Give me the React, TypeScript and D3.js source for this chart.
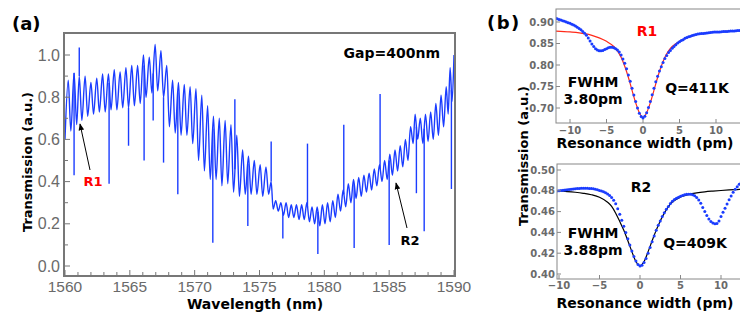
import React from "react";
import * as d3 from "d3";

// ---------- Panel (a): transmission spectrum (fringe extrema) ----------
const specWl = [
  1560.00, 1560.25, 1560.45, 1560.70, 1560.90, 1561.10, 1561.30, 1561.55, 1561.75, 1562.00,
  1562.20, 1562.45, 1562.65, 1562.90, 1563.10, 1563.35, 1563.55, 1563.80, 1564.00, 1564.25,
  1564.45, 1564.70, 1564.90, 1565.15, 1565.35, 1565.60, 1565.80, 1566.05, 1566.25, 1566.50,
  1566.70, 1566.95, 1567.15, 1567.40, 1567.60, 1567.85, 1568.05, 1568.30, 1568.50, 1568.75,
  1568.95, 1569.20, 1569.40, 1569.65, 1569.85, 1570.10, 1570.30, 1570.55, 1570.75, 1571.00,
  1571.20, 1571.45, 1571.65, 1571.90, 1572.10, 1572.35, 1572.55, 1572.80, 1573.00, 1573.25,
  1573.45, 1573.70, 1573.90, 1574.15, 1574.35, 1574.60, 1574.80, 1575.05, 1575.25, 1575.50,
  1575.70, 1575.90, 1576.05, 1576.25, 1576.45, 1576.65, 1576.85, 1577.05, 1577.25, 1577.45,
  1577.65, 1577.85, 1578.05, 1578.25, 1578.45, 1578.65, 1578.85, 1579.05, 1579.25, 1579.45,
  1579.65, 1579.85, 1580.05, 1580.25, 1580.45, 1580.65, 1580.85, 1581.05, 1581.25, 1581.45,
  1581.65, 1581.85, 1582.05, 1582.25, 1582.45, 1582.65, 1582.85, 1583.05, 1583.25, 1583.45,
  1583.65, 1583.85, 1584.05, 1584.25, 1584.45, 1584.65, 1584.85, 1585.05, 1585.25, 1585.45,
  1585.65, 1585.85, 1586.05, 1586.25, 1586.45, 1586.65, 1586.85, 1587.00, 1587.20, 1587.40,
  1587.60, 1587.80, 1588.00, 1588.20, 1588.40, 1588.60, 1588.80, 1589.00, 1589.20, 1589.40,
  1589.55, 1589.70, 1589.85, 1590.00,
];
const specT = [
  0.60, 0.88, 0.64, 0.915, 0.67, 0.90, 0.69, 0.90, 0.71, 0.87,
  0.72, 0.89, 0.73, 0.91, 0.73, 0.91, 0.74, 0.93, 0.74, 0.92,
  0.75, 0.94, 0.75, 0.95, 0.76, 0.95, 0.77, 1.00, 0.80, 0.99,
  0.82, 1.05, 0.83, 1.02, 0.80, 0.95, 0.66, 0.88, 0.63, 0.87,
  0.62, 0.86, 0.62, 0.85, 0.58, 0.84, 0.50, 0.81, 0.45, 0.76,
  0.41, 0.71, 0.41, 0.70, 0.38, 0.69, 0.39, 0.67, 0.35, 0.62,
  0.33, 0.55, 0.34, 0.52, 0.34, 0.50, 0.34, 0.48, 0.33, 0.47,
  0.34, 0.40, 0.27, 0.31, 0.26, 0.30, 0.24, 0.30, 0.23, 0.29,
  0.23, 0.29, 0.22, 0.29, 0.22, 0.30, 0.21, 0.28, 0.20, 0.28,
  0.19, 0.29, 0.20, 0.30, 0.21, 0.31, 0.23, 0.34, 0.26, 0.36,
  0.28, 0.39, 0.30, 0.41, 0.32, 0.42, 0.33, 0.43, 0.35, 0.44,
  0.36, 0.46, 0.38, 0.48, 0.40, 0.50, 0.41, 0.53, 0.43, 0.55,
  0.45, 0.57, 0.47, 0.60, 0.50, 0.66, 0.58, 0.72, 0.60, 0.70,
  0.58, 0.72, 0.59, 0.73, 0.60, 0.77, 0.62, 0.81, 0.66, 0.85,
  0.72, 0.94, 0.78, 1.00,
];
const spikeWl = [1560.7, 1561.1, 1563.4, 1564.9, 1566.1, 1566.8, 1567.6, 1568.7, 1571.4, 1573.1,
  1574.1, 1575.9, 1576.8, 1578.7, 1579.5, 1581.5, 1582.3, 1584.3, 1585.0, 1587.1, 1587.7, 1589.8];
const spikeT = [0.43, 1.035, 0.39, 0.57, 0.50, 0.69, 0.49, 0.34, 0.11, 0.79,
  0.19, 0.59, 0.13, 0.58, 0.057, 0.67, 0.085, 0.815, 0.10, 0.345, 0.165, 0.365];
const xTicksA = [1560, 1565, 1570, 1575, 1580, 1585, 1590];
const yTicksA = [0.0, 0.2, 0.4, 0.6, 0.8, 1.0];

// ---------- Panel (b) top: R1 (measured points every 0.25 pm from -12) ----------
const r1Data = [
  0.909, 0.9075, 0.906, 0.9045, 0.903, 0.9015, 0.900, 0.8985, 0.897, 0.895,
  0.893, 0.8905, 0.888, 0.885, 0.882, 0.878, 0.874, 0.869, 0.863, 0.856,
  0.849, 0.843, 0.838, 0.835, 0.833, 0.833, 0.834, 0.836, 0.838, 0.840,
  0.841, 0.841, 0.840, 0.838, 0.835, 0.830, 0.823, 0.814, 0.804, 0.791,
  0.777, 0.762, 0.746, 0.730, 0.715, 0.700, 0.688, 0.680, 0.677, 0.681,
  0.689, 0.701, 0.715, 0.731, 0.746, 0.761, 0.774, 0.786, 0.796, 0.806,
  0.815, 0.822, 0.829, 0.834, 0.839, 0.843, 0.847, 0.851, 0.854, 0.857,
  0.859, 0.862, 0.864, 0.8655, 0.867, 0.8685, 0.870, 0.871, 0.872, 0.8725,
  0.873, 0.8735, 0.874, 0.8745, 0.875, 0.8755, 0.876, 0.8765, 0.877, 0.877,
  0.877, 0.8775, 0.878, 0.878, 0.878, 0.8785, 0.879, 0.879, 0.879, 0.8795,
  0.880, 0.880, 0.880,
];
const r1Start = -12;
const r1FitX = [-12, -10, -8, -7, -6, -5, -4, -3.5, -3, -2.5, -2, -1.5, -1, -0.5, 0,
  0.5, 1, 1.5, 2, 2.5, 3, 3.5, 4, 5, 6, 7, 8, 10, 12, 14];
const r1Fit = [0.879, 0.877, 0.873, 0.869, 0.863, 0.855, 0.843, 0.833, 0.818, 0.797, 0.771, 0.741, 0.712, 0.689, 0.678,
  0.689, 0.712, 0.741, 0.771, 0.797, 0.818, 0.833, 0.843, 0.855, 0.863, 0.869, 0.873, 0.877, 0.879, 0.880];
const yTicksR1 = [0.70, 0.75, 0.80, 0.85, 0.90];

// ---------- Panel (b) bottom: R2 (measured points every 0.25 pm from -10.5) ----------
const r2Data = [
  0.4795, 0.4798, 0.4800, 0.4803, 0.4805, 0.4808, 0.4810, 0.4813, 0.4815, 0.4818,
  0.4820, 0.4822, 0.4823, 0.4824, 0.4825, 0.4825, 0.4824, 0.4823, 0.4822, 0.4819,
  0.4815, 0.4810, 0.4803, 0.4797, 0.4790, 0.4781, 0.4770, 0.4755, 0.4735, 0.4708,
  0.4675, 0.4628, 0.4575, 0.4518, 0.4460, 0.4400, 0.4340, 0.4280, 0.4220, 0.4168,
  0.4125, 0.4092, 0.4077, 0.4085, 0.4110, 0.4150, 0.4200, 0.4255, 0.4310, 0.4365,
  0.4420, 0.4468, 0.4510, 0.4552, 0.4590, 0.4622, 0.4650, 0.4677, 0.4700, 0.4716,
  0.4728, 0.4739, 0.4748, 0.4756, 0.4762, 0.4766, 0.4768, 0.4767, 0.4762, 0.4752,
  0.4736, 0.4712, 0.4680, 0.4640, 0.4600, 0.4562, 0.4528, 0.4505, 0.4490, 0.4482,
  0.4485, 0.4510, 0.4553, 0.4593, 0.4633, 0.4673, 0.4713, 0.4750, 0.4787, 0.4815,
  0.4840, 0.4862, 0.4880,
];
const r2Start = -10.5;
const r2FitX = [-10.5, -10, -9, -8, -7, -6, -5, -4, -3.5, -3, -2.5, -2, -1.5, -1, -0.5, 0,
  0.5, 1, 1.5, 2, 2.5, 3, 3.5, 4, 5, 6, 7, 8, 9, 10, 11, 12, 12.5];
const r2Fit = [0.4800, 0.4798, 0.4793, 0.4786, 0.4776, 0.4762, 0.4738, 0.4690, 0.4650, 0.4585, 0.4505, 0.4420, 0.4320, 0.4215, 0.4120, 0.4080,
  0.4120, 0.4215, 0.4320, 0.4420, 0.4510, 0.4585, 0.4648, 0.4692, 0.4740, 0.4765, 0.4780, 0.4790, 0.4797, 0.4803, 0.4808, 0.4812, 0.4814];
const yTicksR2 = [0.40, 0.42, 0.44, 0.46, 0.48, 0.50];
const xTicksB = [-10, -5, 0, 5, 10];
const STEP = 0.25;

const BOLD = "'DejaVu Sans', Verdana, sans-serif";
const PLAIN = "'Liberation Sans', Arial, sans-serif";
const BLUE = "#1a3cff";

export default function App() {
  // ---- panel (a) scales ----
  const xa = d3.scaleLinear().domain([1560, 1590]).range([65, 454]);
  const ya = d3.scaleLinear().domain([0, 1]).range([266, 55]);
  const specPts: [number, number][] = specWl.map((w, i) => [w, specT[i]]);
  const specLine = d3.line<[number, number]>().x(d => xa(d[0])).y(d => ya(d[1])).curve(d3.curveMonotoneX)(specPts) || "";
  const baseAt = (w: number) => {
    const i = d3.bisector((d: number) => d).right(specWl, w);
    const i0 = Math.max(0, i - 1), i1 = Math.min(specWl.length - 1, i);
    if (i0 === i1) return specT[i0];
    const t = (w - specWl[i0]) / (specWl[i1] - specWl[i0]);
    return specT[i0] + t * (specT[i1] - specT[i0]);
  };
  const minorA = d3.range(1561, 1590, 1).filter(v => v % 5 !== 0);
  const minorYA = [0.1, 0.3, 0.5, 0.7, 0.9];

  // ---- panel (b) top ----
  const xb1 = d3.scaleLinear().domain([-10, 10]).range([570, 716]);
  const yb1 = d3.scaleLinear().domain([0.70, 0.90]).range([108, 22]);
  const fit1 = d3.line<number>().x((_, i) => xb1(r1FitX[i])).y(d => yb1(d)).curve(d3.curveMonotoneX)(r1Fit) || "";

  // ---- panel (b) bottom ----
  const xb2 = d3.scaleLinear().domain([-10, 10]).range([559, 721]);
  const yb2 = d3.scaleLinear().domain([0.40, 0.50]).range([274, 170]);
  const fit2 = d3.line<number>().x((_, i) => xb2(r2FitX[i])).y(d => yb2(d)).curve(d3.curveMonotoneX)(r2Fit) || "";

  const fmtMinus = (v: number) => (v < 0 ? "\u2212" + Math.abs(v) : String(v));

  return (
    <svg width={740} height={312} viewBox="0 0 740 312"
      style={{ position: "absolute", left: 0, top: 0, background: "#fff" }}>
      <defs>
        <clipPath id="clipA"><rect x={65} y={34} width={389} height={241} /></clipPath>
        <clipPath id="clipB1"><rect x={556} y={9} width={190} height={114} /></clipPath>
        <clipPath id="clipB2"><rect x={557} y={164} width={190} height={115} /></clipPath>
        <marker id="arr" viewBox="0 0 10 10" refX={9} refY={5} markerWidth={7} markerHeight={7} orient="auto">
          <path d="M0,1 L10,5 L0,9 z" fill="#000" />
        </marker>
      </defs>
      <rect x={0} y={0} width={740} height={312} fill="#fff" />

      {/* ---------- Panel (a) ---------- */}
      <text x={12} y={30} fontFamily={BOLD} fontWeight="bold" fontSize={18}>(a)</text>
      <g clipPath="url(#clipA)">
        <path d={specLine} fill="none" stroke={BLUE} strokeWidth={1.4} strokeLinejoin="round" />
        {spikeWl.map((w, i) => (
          <line key={i} x1={xa(w)} x2={xa(w)} y1={ya(baseAt(w))} y2={ya(spikeT[i])} stroke={BLUE} strokeWidth={1.4} />
        ))}
      </g>
      <rect x={64} y={33} width={391} height={243} fill="none" stroke="#777" strokeWidth={2} />
      {yTicksA.map(v => (
        <g key={"ya" + v}>
          <line x1={65} x2={70} y1={ya(v)} y2={ya(v)} stroke="#777" strokeWidth={1} />
          <text x={60} y={ya(v) + 5.5} textAnchor="end" fontFamily={PLAIN} fontSize={16} fill="#6a6a6a">{v.toFixed(1)}</text>
        </g>
      ))}
      {minorYA.map(v => (
        <line key={"mya" + v} x1={65} x2={68} y1={ya(v)} y2={ya(v)} stroke="#777" strokeWidth={1} />
      ))}
      {xTicksA.map(v => (
        <g key={"xa" + v}>
          <line x1={xa(v)} x2={xa(v)} y1={275} y2={270} stroke="#777" strokeWidth={1} />
          <text x={xa(v)} y={292} textAnchor="middle" fontFamily={PLAIN} fontSize={15.5} fill="#6a6a6a">{v}</text>
        </g>
      ))}
      {minorA.map(v => (
        <line key={"mxa" + v} x1={xa(v)} x2={xa(v)} y1={275} y2={272} stroke="#777" strokeWidth={1} />
      ))}
      <text x={255} y={308.5} textAnchor="middle" fontFamily={BOLD} fontWeight="bold" fontSize={14}>Wavelength (nm)</text>
      <text transform="translate(32,162) rotate(-90)" textAnchor="middle" fontFamily={BOLD} fontWeight="bold" fontSize={13}>Transmission (a.u.)</text>
      <text x={440} y={58} textAnchor="end" fontFamily={BOLD} fontWeight="bold" fontSize={14}>Gap=400nm</text>
      <line x1={90} y1={170} x2={80} y2={124} stroke="#000" strokeWidth={1} markerEnd="url(#arr)" />
      <text x={93} y={186} textAnchor="middle" fontFamily={BOLD} fontWeight="bold" fontSize={13} fill="#ff0000">R1</text>
      <line x1={407} y1={228} x2={396} y2={183} stroke="#000" strokeWidth={1} markerEnd="url(#arr)" />
      <text x={410} y={245} textAnchor="middle" fontFamily={BOLD} fontWeight="bold" fontSize={13}>R2</text>

      {/* ---------- Panel (b) ---------- */}
      <text x={487} y={29} fontFamily={BOLD} fontWeight="bold" fontSize={18} letterSpacing={1.5}>(b)</text>
      <text transform="translate(528,156) rotate(-90)" textAnchor="middle" fontFamily={BOLD} fontWeight="bold" fontSize={13}>Transmission (a.u.)</text>

      {/* top */}
      <g clipPath="url(#clipB1)">
        <path d={fit1} fill="none" stroke="#ff2a1a" strokeWidth={1.2} />
        {r1Data.map((v, i) => (
          <circle key={i} cx={xb1(r1Start + i * STEP)} cy={yb1(v)} r={1.5} fill={BLUE} />
        ))}
      </g>
      <rect x={556} y={9} width={200} height={114} fill="none" stroke="#888" strokeWidth={1} />
      {yTicksR1.map(v => (
        <g key={"y1" + v}>
          <line x1={556} x2={560} y1={yb1(v)} y2={yb1(v)} stroke="#888" />
          <text x={554} y={yb1(v) + 3.5} textAnchor="end" fontFamily={BOLD} fontWeight="bold" fontSize={10} fill="#6a6a6a">{v.toFixed(2)}</text>
        </g>
      ))}
      {xTicksB.map(v => (
        <g key={"x1" + v}>
          <line x1={xb1(v)} x2={xb1(v)} y1={123} y2={119} stroke="#888" />
          <text x={xb1(v)} y={134} textAnchor="middle" fontFamily={BOLD} fontWeight="bold" fontSize={10} fill="#6a6a6a">{fmtMinus(v)}</text>
        </g>
      ))}
      <text x={645} y={148} textAnchor="middle" fontFamily={BOLD} fontWeight="bold" fontSize={14}>Resonance width (pm)</text>
      <text x={647} y={36} textAnchor="middle" fontFamily={BOLD} fontWeight="bold" fontSize={14} fill="#ff0000">R1</text>
      <text x={593} y={87} textAnchor="middle" fontFamily={BOLD} fontWeight="bold" fontSize={14}>FWHM</text>
      <text x={593} y={104} textAnchor="middle" fontFamily={BOLD} fontWeight="bold" fontSize={14}>3.80pm</text>
      <text x={697} y={93} textAnchor="middle" fontFamily={BOLD} fontWeight="bold" fontSize={14}>Q=411K</text>

      {/* bottom */}
      <g clipPath="url(#clipB2)">
        <path d={fit2} fill="none" stroke="#000" strokeWidth={1.2} />
        {r2Data.map((v, i) => (
          <circle key={i} cx={xb2(r2Start + i * STEP)} cy={yb2(v)} r={1.5} fill={BLUE} />
        ))}
      </g>
      <rect x={557} y={164} width={200} height={115} fill="none" stroke="#888" strokeWidth={1} />
      {yTicksR2.map(v => (
        <g key={"y2" + v}>
          <line x1={557} x2={561} y1={yb2(v)} y2={yb2(v)} stroke="#888" />
          <text x={555} y={yb2(v) + 3.5} textAnchor="end" fontFamily={BOLD} fontWeight="bold" fontSize={10} fill="#6a6a6a">{v.toFixed(2)}</text>
        </g>
      ))}
      {xTicksB.map(v => (
        <g key={"x2" + v}>
          <line x1={xb2(v)} x2={xb2(v)} y1={279} y2={275} stroke="#888" />
          <text x={xb2(v)} y={289} textAnchor="middle" fontFamily={BOLD} fontWeight="bold" fontSize={10} fill="#6a6a6a">{fmtMinus(v)}</text>
        </g>
      ))}
      <text x={645} y={308} textAnchor="middle" fontFamily={BOLD} fontWeight="bold" fontSize={14}>Resonance width (pm)</text>
      <text x={641} y={192} textAnchor="middle" fontFamily={BOLD} fontWeight="bold" fontSize={14}>R2</text>
      <text x={593} y={238} textAnchor="middle" fontFamily={BOLD} fontWeight="bold" fontSize={14}>FWHM</text>
      <text x={593} y={255} textAnchor="middle" fontFamily={BOLD} fontWeight="bold" fontSize={14}>3.88pm</text>
      <text x={695} y={248} textAnchor="middle" fontFamily={BOLD} fontWeight="bold" fontSize={14}>Q=409K</text>
    </svg>
  );
}
